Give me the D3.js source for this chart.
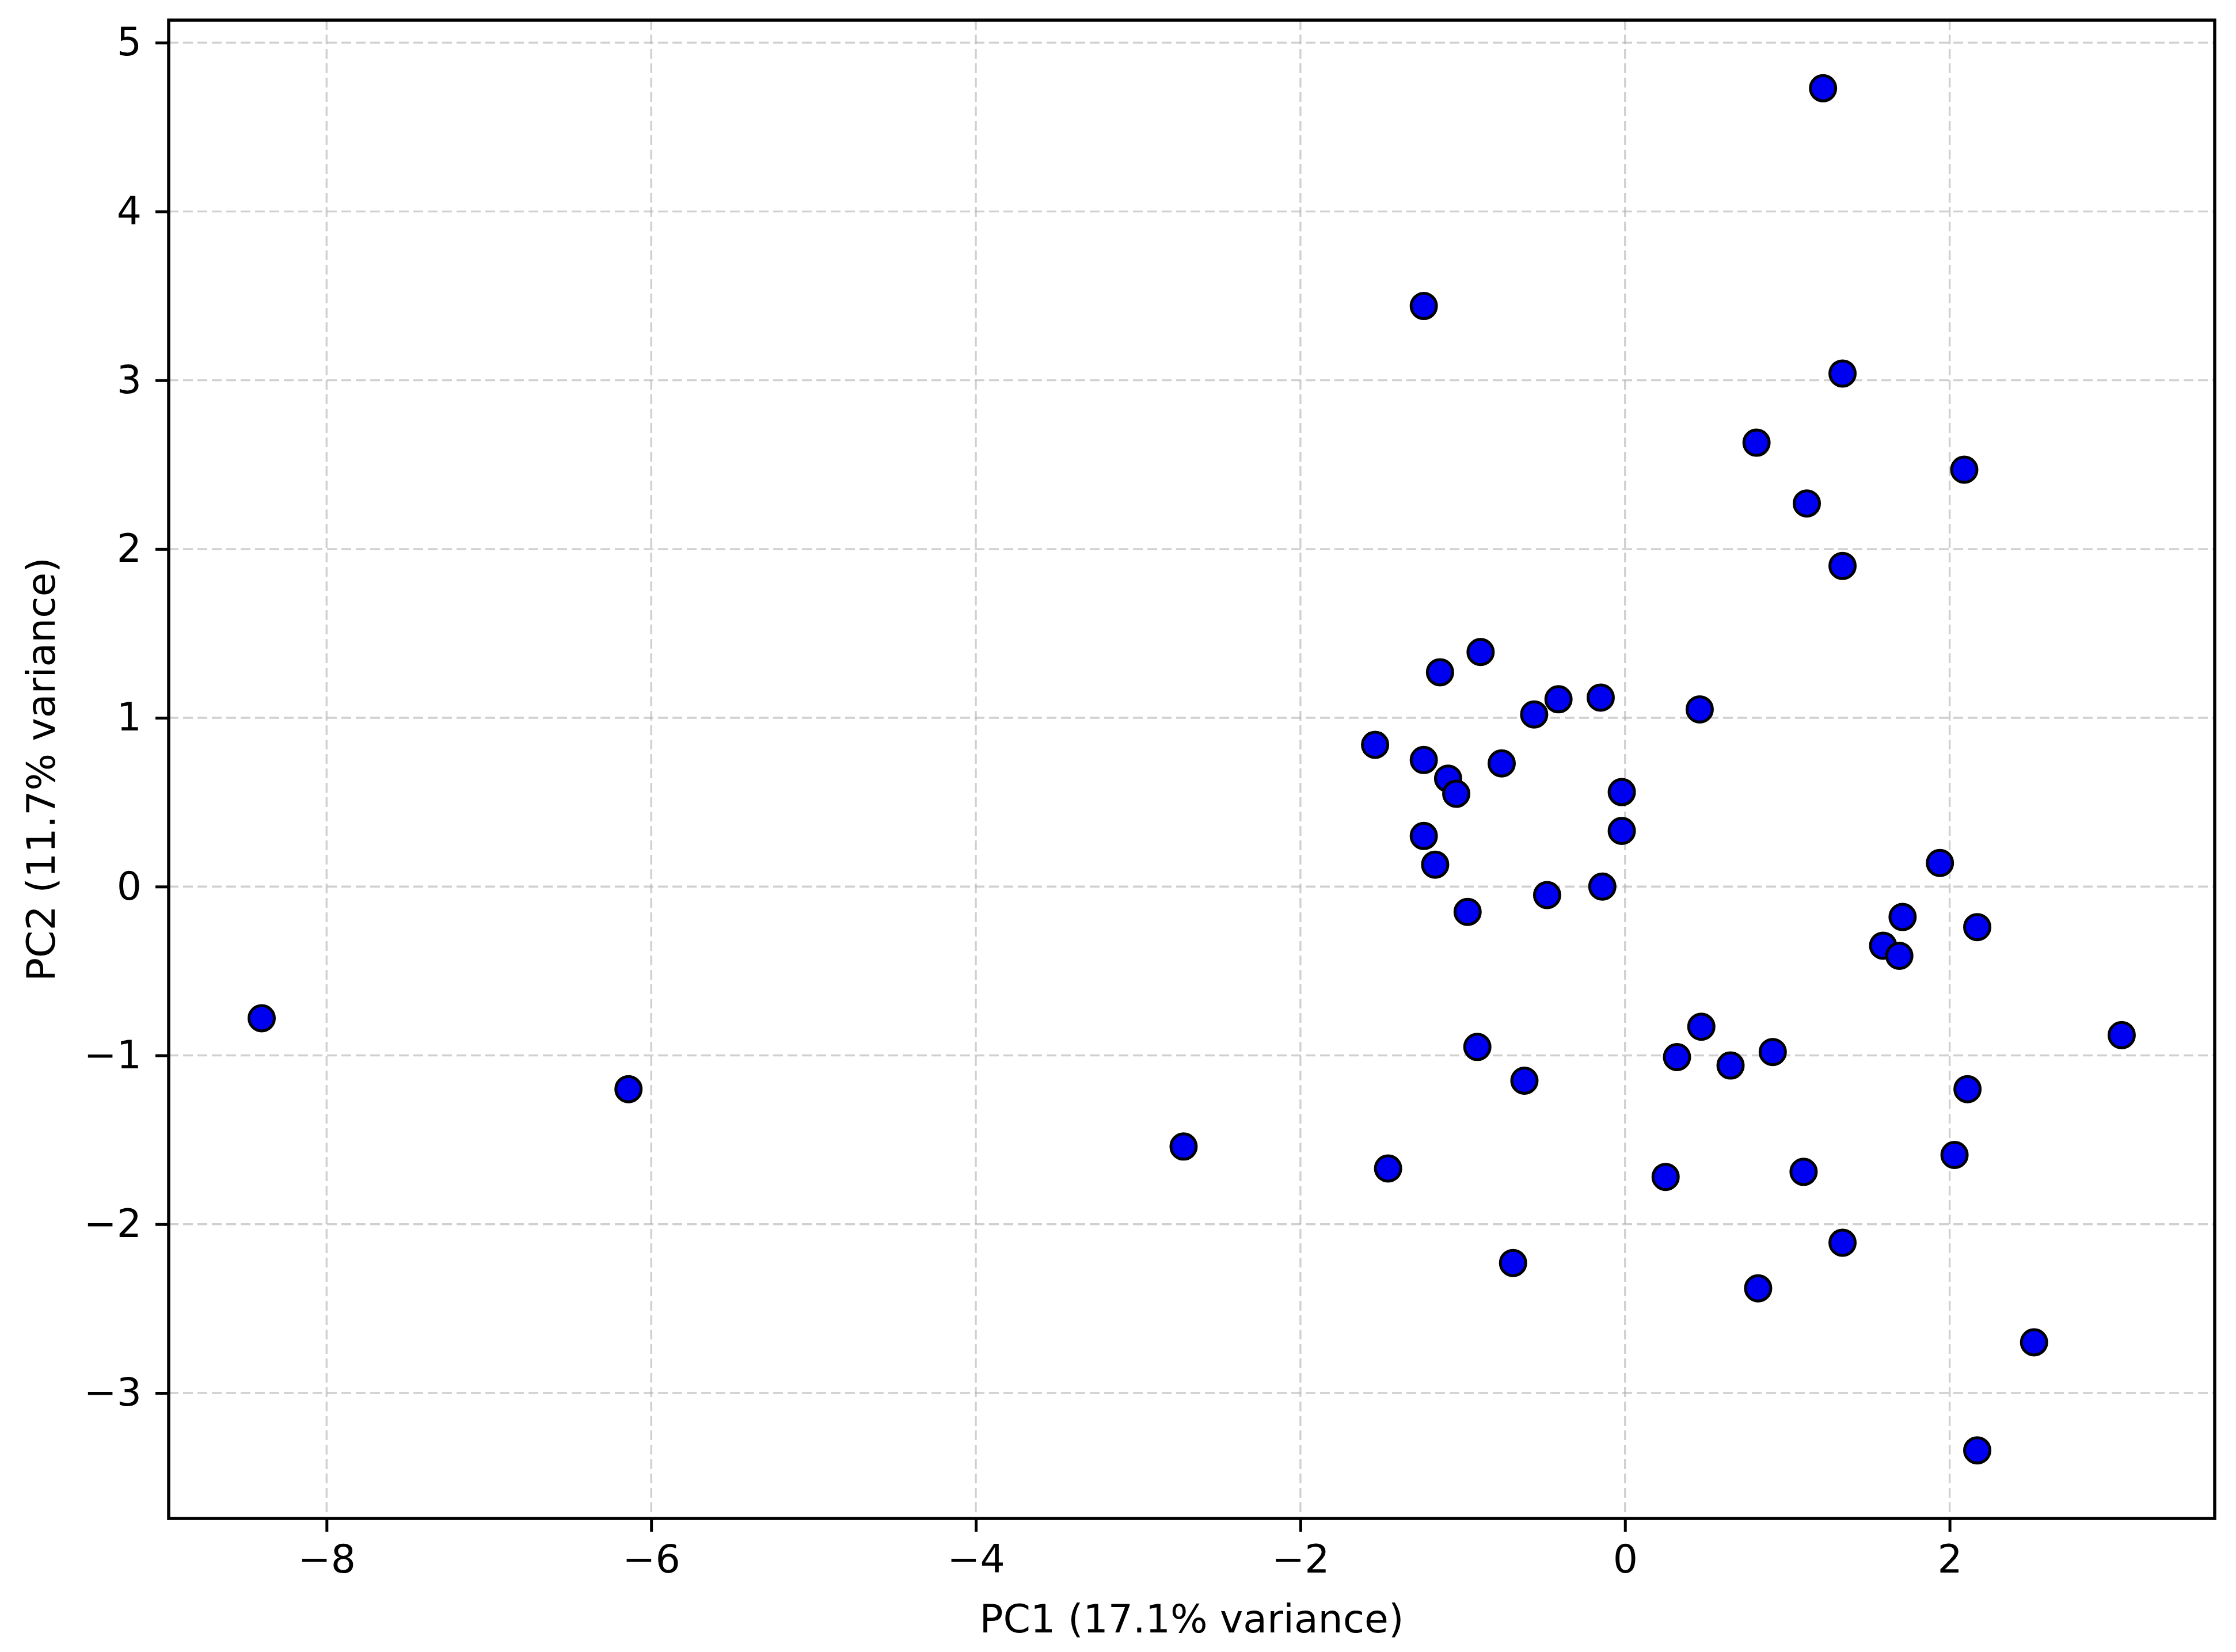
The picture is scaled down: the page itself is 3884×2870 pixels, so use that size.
<!DOCTYPE html>
<html>
<head>
<meta charset="utf-8">
<script src="https://cdn.jsdelivr.net/npm/d3@7"></script>
<style>
  html, body { margin: 0; padding: 0; background: #ffffff; }
  svg { display: block; }
  text { font-family: "DejaVu Sans", sans-serif; fill: #000; }
</style>
</head>
<body>
<svg id="chart" width="3884" height="2870"></svg>
<script>
// ---- data ----
const pc1 = [-8.40, -6.14, -2.72, -1.46, -1.24, -1.54, -1.24, -1.14, -0.89, -1.09,
             -1.04, -0.76, -0.56, -0.41, -0.15, 0.46, -0.02, -0.02, -1.24, -1.17,
             -0.97, -0.48, -0.14, -0.91, -0.62, -0.69, 1.22, 1.34, 0.81, 1.12,
             1.34, 2.09, 1.94, 1.71, 1.59, 1.69, 2.17, 3.06, 0.47, 0.32,
             0.65, 0.91, 2.11, 2.03, 0.25, 1.10, 1.34, 0.82, 2.52, 2.17];
const pc2 = [-0.78, -1.20, -1.54, -1.67, 3.44, 0.84, 0.75, 1.27, 1.39, 0.64,
             0.55, 0.73, 1.02, 1.11, 1.12, 1.05, 0.56, 0.33, 0.30, 0.13,
             -0.15, -0.05, 0.00, -0.95, -1.15, -2.23, 4.73, 3.04, 2.63, 2.27,
             1.90, 2.47, 0.14, -0.18, -0.35, -0.41, -0.24, -0.88, -0.83, -1.01,
             -1.06, -0.98, -1.20, -1.59, -1.72, -1.69, -2.11, -2.38, -2.70, -3.34];
const xTicks = [-8, -6, -4, -2, 0, 2];
const yTicks = [-3, -2, -1, 0, 1, 2, 3, 4, 5];
const xLabel = "PC1 (17.1% variance)";
const yLabel = "PC2 (11.7% variance)";

// ---- layout ----
const L = 293, R = 3847, T = 35, B = 2638;
const fontSize = 68;
const svg = d3.select("#chart");

function padded(arr) {
  const [lo, hi] = d3.extent(arr);
  const m = (hi - lo) * 0.05;
  return [lo - m, hi + m];
}
const x = d3.scaleLinear().domain(padded(pc1)).range([L, R]);
const y = d3.scaleLinear().domain(padded(pc2)).range([B, T]);

const fmt = d => (d < 0 ? "\u2212" + Math.abs(d) : String(d));

// grid
const grid = svg.append("g");
grid.selectAll("line.gx").data(xTicks).join("line")
  .attr("x1", d => x(d)).attr("x2", d => x(d)).attr("y1", T).attr("y2", B)
  .attr("stroke", "#b0b0b0").attr("stroke-opacity", 0.6)
  .attr("stroke-width", 3.4).attr("stroke-dasharray", "17,8");
grid.selectAll("line.gy").data(yTicks).join("line")
  .attr("y1", d => y(d)).attr("y2", d => y(d)).attr("x1", L).attr("x2", R)
  .attr("stroke", "#b0b0b0").attr("stroke-opacity", 0.6)
  .attr("stroke-width", 3.4).attr("stroke-dasharray", "17,8");

// axes
const tickLen = 23;
const xAxis = d3.axisBottom(x).tickValues(xTicks).tickFormat(fmt)
  .tickSizeInner(tickLen).tickSizeOuter(0).tickPadding(23);
const yAxis = d3.axisLeft(y).tickValues(yTicks).tickFormat(fmt)
  .tickSizeInner(tickLen).tickSizeOuter(0).tickPadding(24);

const gx = svg.append("g").attr("transform", `translate(0,${B})`).call(xAxis);
const gy = svg.append("g").attr("transform", `translate(${L},0)`).call(yAxis);
[gx, gy].forEach(g => {
  g.select(".domain").remove();
  g.selectAll(".tick line").attr("stroke", "#000").attr("stroke-width", 5);
  g.selectAll(".tick text").attr("font-size", fontSize)
    .attr("font-family", "DejaVu Sans").attr("fill", "#000");
});

// points
svg.append("g").selectAll("circle").data(pc1.map((v, i) => [v, pc2[i]])).join("circle")
  .attr("cx", d => x(d[0])).attr("cy", d => y(d[1])).attr("r", 22)
  .attr("fill", "#0000f0").attr("stroke", "#000").attr("stroke-width", 5);

// frame
svg.append("rect").attr("x", L).attr("y", T).attr("width", R - L).attr("height", B - T)
  .attr("fill", "none").attr("stroke", "#000").attr("stroke-width", 5.5);

// labels
svg.append("text").attr("x", (L + R) / 2).attr("y", 2836)
  .attr("text-anchor", "middle").attr("font-size", fontSize).text(xLabel);
svg.append("text").attr("transform", `translate(95,${(T + B) / 2}) rotate(-90)`)
  .attr("text-anchor", "middle").attr("font-size", fontSize).text(yLabel);
</script>
</body>
</html>
